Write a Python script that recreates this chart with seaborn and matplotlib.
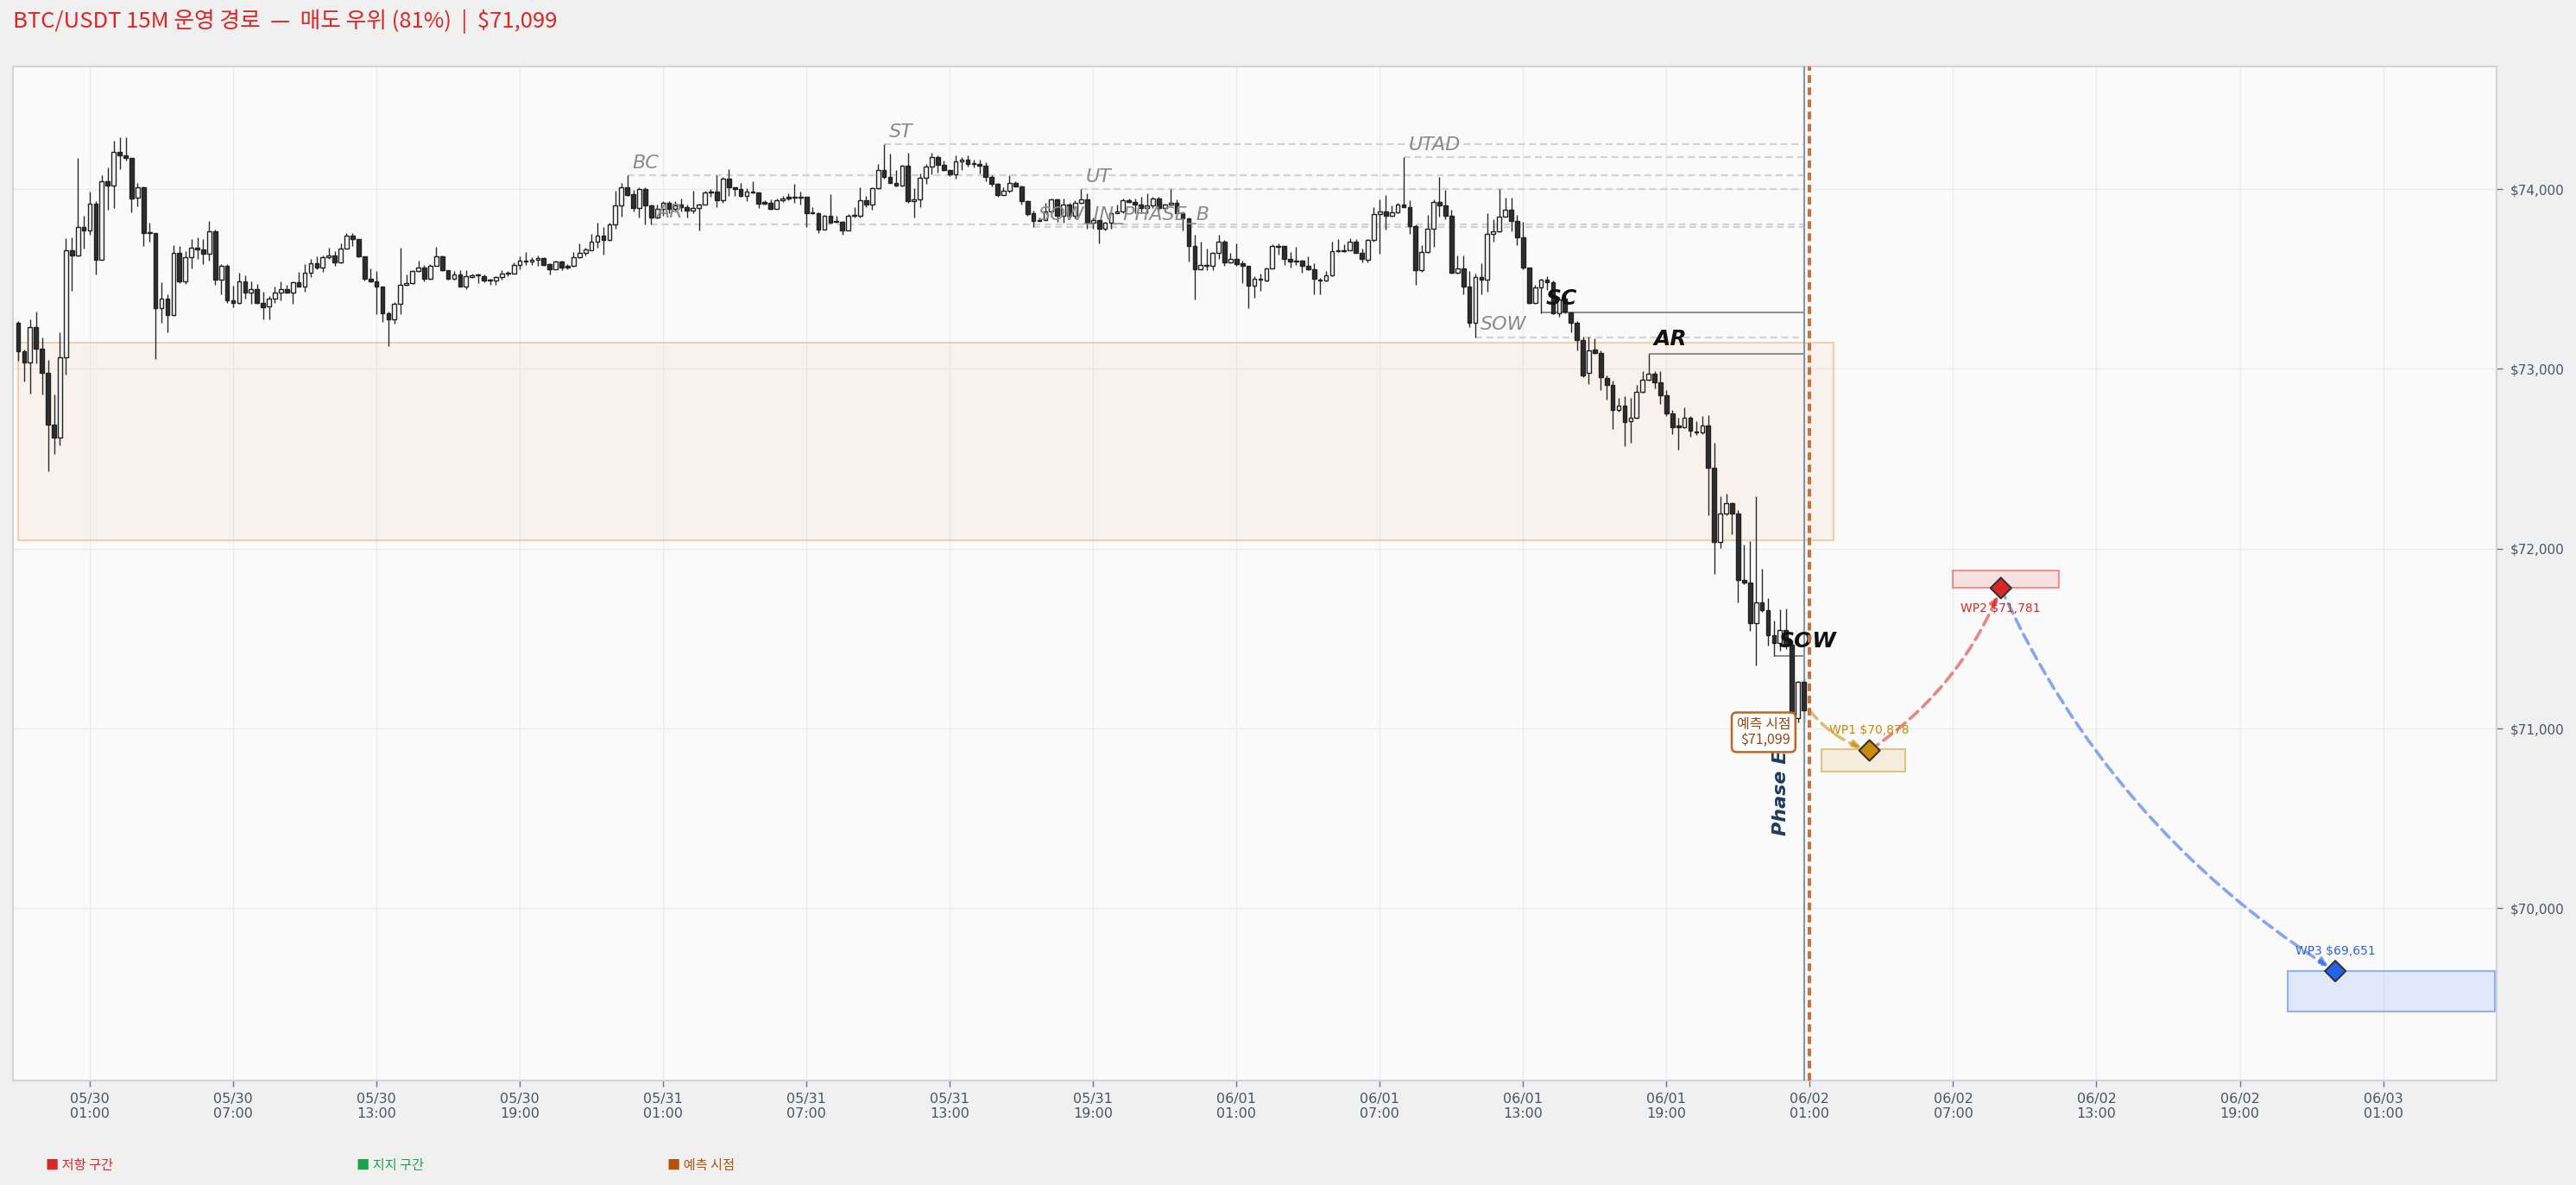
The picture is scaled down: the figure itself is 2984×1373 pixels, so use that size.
import numpy as np
import pandas as pd
import matplotlib
matplotlib.use("Agg")
import matplotlib.pyplot as plt
import matplotlib.dates as mdates
from matplotlib.patches import Rectangle
from matplotlib.ticker import FuncFormatter
import seaborn as sns

# ------------------------------------------------------------------ data
bar_start = "2024-05-29 22:00"   # first 15-minute candle

opens = [
    73256, 73099, 73035, 73232, 73112, 72979, 72691, 72616, 73064, 73659, 73629, 73789, 73768, 73918, 73608,
    74043, 74019, 74208, 74187, 74173, 73952, 74010, 73757, 73755, 73336, 73389, 73299, 73643, 73486, 73621,
    73674, 73664, 73640, 73765, 73496, 73571, 73379, 73365, 73486, 73424, 73443, 73365, 73347, 73389, 73424,
    73443, 73424, 73482, 73459, 73534, 73587, 73563, 73621, 73630, 73592, 73669, 73739, 73720, 73624, 73499,
    73485, 73456, 73309, 73275, 73362, 73467, 73475, 73544, 73562, 73499, 73573, 73627, 73547, 73501, 73525,
    73459, 73512, 73520, 73518, 73493, 73491, 73512, 73534, 73531, 73576, 73600, 73595, 73606, 73616, 73582,
    73555, 73595, 73574, 73571, 73619, 73643, 73662, 73707, 73739, 73715, 73803, 73907, 74008, 73971, 73896,
    74000, 73907, 73840, 73888, 73926, 73891, 73915, 73899, 73880, 73893, 73915, 73984, 73984, 73936, 74059,
    74008, 74002, 73960, 73987, 73979, 73928, 73926, 73891, 73939, 73955, 73955, 73955, 73955, 73869, 73867,
    73776, 73851, 73821, 73819, 73771, 73853, 73851, 73939, 73915, 74003, 74107, 74070, 74035, 74019, 74131,
    73931, 73942, 74062, 74123, 74176, 74136, 74104, 74080, 74155, 74166, 74142, 74142, 74131, 74070, 74027,
    73968, 73992, 74032, 74017, 73931, 73864, 73829, 73830, 73875, 73944, 73854, 73912, 73854, 73926, 73944,
    73811, 73827, 73779, 73811, 73867, 73875, 73939, 73928, 73912, 73896, 73907, 73950, 73896, 73912, 73926,
    73867, 73838, 73686, 73555, 73576, 73571, 73643, 73707, 73592, 73614, 73587, 73571, 73464, 73501, 73491,
    73560, 73685, 73683, 73614, 73595, 73603, 73571, 73555, 73497, 73491, 73520, 73657, 73653, 73662, 73710,
    73646, 73609, 73716, 73860, 73877, 73851, 73870, 73915, 73902, 73795, 73549, 73652, 73780, 73930, 73909,
    73851, 73534, 73560, 73459, 73255, 73512, 73495, 73752, 73763, 73849, 73887, 73823, 73731, 73566, 73367,
    73452, 73495, 73480, 73310, 73390, 73315, 73255, 73159, 72977, 73110, 73090, 72951, 72912, 72773, 72794,
    72709, 72730, 72874, 72940, 72972, 72923, 72854, 72752, 72685, 72677, 72730, 72653, 72645, 72687, 72452,
    72038, 72194, 72252, 72194, 71827, 71811, 71584, 71699, 71656, 71518, 71478, 71550, 71467, 71059, 71259,
]
highs = [
    73267, 73109, 73277, 73320, 73176, 73048, 72859, 73205, 73728, 73733, 74173, 73853, 73987, 73933, 74075,
    74120, 74269, 74288, 74288, 74173, 74035, 74016, 73813, 73757, 73483, 73416, 73688, 73683, 73656, 73723,
    73731, 73720, 73824, 73776, 73584, 73584, 73464, 73536, 73520, 73488, 73472, 73429, 73403, 73459, 73488,
    73467, 73488, 73541, 73584, 73613, 73624, 73632, 73672, 73656, 73696, 73755, 73757, 73723, 73627, 73560,
    73544, 73456, 73317, 73371, 73672, 73525, 73547, 73603, 73579, 73581, 73680, 73632, 73550, 73544, 73547,
    73547, 73528, 73531, 73523, 73499, 73518, 73547, 73544, 73592, 73624, 73648, 73622, 73632, 73619, 73587,
    73600, 73600, 73582, 73648, 73696, 73672, 73750, 73811, 73787, 73811, 73990, 74035, 74075, 73995, 74011,
    74011, 73915, 73915, 73931, 73934, 73931, 73947, 73915, 73990, 73920, 73990, 74002, 74075, 74070, 74110,
    74011, 74035, 74003, 74043, 73982, 73939, 73942, 73947, 73963, 73976, 74027, 73987, 73958, 73899, 73870,
    73856, 73971, 73854, 73822, 73859, 73902, 74008, 73963, 74011, 74139, 74250, 74195, 74107, 74136, 74200,
    74003, 74086, 74139, 74200, 74187, 74158, 74107, 74190, 74179, 74190, 74166, 74163, 74147, 74075, 74035,
    74011, 74078, 74046, 74019, 73939, 73880, 73843, 73923, 73950, 73950, 73950, 73923, 73939, 74000, 73976,
    73843, 73830, 73816, 73878, 73912, 73947, 73947, 73947, 73955, 73976, 73955, 73955, 73918, 74000, 73942,
    73875, 73843, 73747, 73710, 73667, 73651, 73744, 73715, 73643, 73696, 73603, 73571, 73518, 73531, 73563,
    73691, 73699, 73686, 73651, 73678, 73606, 73627, 73587, 73507, 73544, 73710, 73723, 73691, 73726, 73723,
    73670, 73722, 73898, 73945, 73967, 73909, 73924, 74178, 73937, 73802, 73688, 73855, 73941, 74070, 73995,
    73887, 73630, 73630, 73545, 73530, 73587, 73866, 73834, 73999, 73952, 73952, 73855, 73817, 73566, 73470,
    73499, 73515, 73491, 73400, 73405, 73315, 73266, 73180, 73180, 73170, 73105, 72966, 72934, 72837, 72848,
    72837, 72912, 72987, 73086, 72987, 72987, 72884, 72773, 72730, 72788, 72737, 72709, 72737, 72741, 72587,
    72291, 72308, 72259, 72216, 72023, 72044, 72291, 71888, 71723, 71601, 71665, 71667, 71490, 71265, 71283,
]
lows = [
    73043, 72928, 72864, 73032, 72856, 72432, 72528, 72573, 72968, 73432, 73624, 73667, 73744, 73523, 73605,
    73883, 73893, 74109, 74160, 73869, 73904, 73682, 73707, 73053, 73256, 73203, 73296, 73477, 73472, 73557,
    73611, 73581, 73600, 73469, 73416, 73368, 73341, 73360, 73389, 73360, 73360, 73275, 73275, 73368, 73379,
    73424, 73360, 73456, 73427, 73509, 73552, 73541, 73613, 73573, 73589, 73667, 73685, 73621, 73493, 73480,
    73304, 73259, 73125, 73251, 73304, 73464, 73472, 73541, 73485, 73496, 73571, 73544, 73496, 73496, 73456,
    73443, 73507, 73475, 73483, 73470, 73467, 73496, 73515, 73528, 73555, 73579, 73579, 73571, 73574, 73526,
    73552, 73547, 73555, 73568, 73616, 73630, 73659, 73675, 73635, 73712, 73782, 73846, 73963, 73878, 73843,
    73803, 73803, 73835, 73851, 73867, 73875, 73875, 73843, 73867, 73771, 73912, 73955, 73899, 73923, 73963,
    73963, 73955, 73931, 73976, 73896, 73915, 73886, 73888, 73928, 73939, 73923, 73915, 73790, 73859, 73755,
    73774, 73811, 73811, 73747, 73768, 73843, 73843, 73899, 73886, 74000, 74056, 74032, 74016, 74016, 73923,
    73840, 73902, 74027, 74080, 74094, 74099, 74072, 74059, 74107, 74123, 74120, 74088, 74043, 74016, 73955,
    73966, 73982, 74014, 73915, 73851, 73790, 73822, 73827, 73867, 73819, 73814, 73835, 73835, 73918, 73779,
    73779, 73699, 73771, 73779, 73864, 73867, 73923, 73867, 73867, 73867, 73896, 73875, 73886, 73907, 73864,
    73768, 73598, 73387, 73552, 73547, 73547, 73611, 73571, 73587, 73571, 73478, 73339, 73395, 73432, 73488,
    73558, 73635, 73579, 73566, 73579, 73536, 73550, 73416, 73416, 73488, 73518, 73651, 73648, 73659, 73643,
    73592, 73594, 73710, 73641, 73774, 73845, 73866, 73898, 73752, 73470, 73538, 73645, 73680, 73845, 73834,
    73530, 73530, 73416, 73234, 73177, 73416, 73431, 73710, 73759, 73845, 73763, 73688, 73555, 73362, 73362,
    73307, 73440, 73305, 73290, 73310, 73202, 73105, 72955, 72917, 73084, 72880, 72827, 72666, 72762, 72569,
    72587, 72726, 72870, 72934, 72891, 72805, 72737, 72638, 72552, 72672, 72623, 72634, 72638, 72188, 71862,
    72002, 72188, 72081, 71702, 71802, 71545, 71352, 71648, 71459, 71403, 71434, 71440, 71045, 71035, 71035,
]
closes = [
    73096, 73035, 73232, 73112, 72976, 72688, 72616, 73064, 73659, 73629, 73789, 73771, 73918, 73608, 74043,
    74019, 74208, 74187, 74173, 73947, 74010, 73755, 73755, 73336, 73389, 73299, 73643, 73486, 73621, 73674,
    73664, 73640, 73765, 73496, 73571, 73379, 73365, 73486, 73424, 73443, 73365, 73341, 73389, 73424, 73443,
    73424, 73482, 73459, 73534, 73587, 73563, 73621, 73630, 73592, 73669, 73739, 73720, 73624, 73499, 73485,
    73456, 73309, 73275, 73362, 73467, 73475, 73544, 73562, 73499, 73573, 73627, 73547, 73501, 73525, 73456,
    73515, 73521, 73521, 73491, 73491, 73512, 73528, 73529, 73576, 73600, 73597, 73606, 73616, 73579, 73555,
    73595, 73566, 73566, 73619, 73643, 73664, 73707, 73739, 73715, 73803, 73907, 74008, 73966, 73896, 74000,
    73907, 73840, 73888, 73926, 73891, 73910, 73899, 73880, 73893, 73915, 73979, 73979, 73936, 74059, 74008,
    74002, 73960, 73987, 73979, 73920, 73920, 73891, 73939, 73950, 73947, 73953, 73953, 73867, 73868, 73776,
    73851, 73814, 73818, 73771, 73854, 73854, 73939, 73915, 74003, 74107, 74070, 74035, 74019, 74131, 73931,
    73942, 74062, 74123, 74176, 74136, 74104, 74080, 74155, 74166, 74142, 74141, 74131, 74070, 74027, 73968,
    73992, 74032, 74017, 73931, 73859, 73822, 73825, 73875, 73944, 73854, 73912, 73854, 73926, 73944, 73811,
    73827, 73779, 73811, 73867, 73878, 73939, 73928, 73912, 73896, 73907, 73950, 73896, 73912, 73926, 73867,
    73838, 73686, 73555, 73576, 73573, 73643, 73707, 73592, 73614, 73582, 73571, 73464, 73499, 73496, 73560,
    73686, 73681, 73614, 73595, 73603, 73571, 73555, 73499, 73494, 73520, 73656, 73654, 73662, 73710, 73646,
    73611, 73716, 73860, 73877, 73851, 73870, 73915, 73902, 73795, 73549, 73652, 73780, 73930, 73909, 73851,
    73534, 73560, 73459, 73255, 73512, 73495, 73752, 73763, 73849, 73887, 73823, 73731, 73566, 73367, 73452,
    73495, 73480, 73310, 73387, 73320, 73255, 73159, 72966, 73105, 73090, 72955, 72912, 72773, 72794, 72704,
    72730, 72874, 72940, 72972, 72923, 72854, 72752, 72677, 72677, 72730, 72655, 72649, 72687, 72452, 72038,
    72194, 72252, 72194, 71824, 71811, 71587, 71699, 71656, 71518, 71478, 71550, 71467, 71060, 71259, 71099,
]

# Wyckoff reference levels (gray dashed) : label, candle number (1-based), level
ref_labels = ["BC", "AR", "ST", "SOW_IN_PHASE_B", "UT", "UTAD", "SOW"]
ref_bars = [103, 107, 146, 171, 179, 233, 245]
ref_levels = [74075, 73803, 74250, 73790, 74000, 74178, 73177]

# Key events (solid line, bold label)
evt_labels = ["SC", "AR", "SOW"]
evt_bars = [256, 274, 295]
evt_levels = [73312, 73086, 71403]

# Resistance / reaction zone
zone_start = "2024-05-29 22:00"
zone_end = "2024-06-02 02:00"
zone_low, zone_high = 72045, 73144

# Forecast path
now_time = "2024-06-02 01:00"
now_price = 71099
wp_names = ["WP1", "WP2", "WP3"]
wp_times = ["2024-06-02 03:30", "2024-06-02 09:00", "2024-06-02 23:00"]
wp_prices = [70878, 71781, 69651]
wp_colors = ["#ca8a04", "#dc2626", "#2563eb"]
wp_box_t0 = ["2024-06-02 01:30", "2024-06-02 07:00", "2024-06-02 21:00"]
wp_box_t1 = ["2024-06-02 05:00", "2024-06-02 11:25", "2024-06-03 05:40"]
wp_box_lo = [70760, 71781, 69426]
wp_box_hi = [70886, 71880, 69651]

title_text = "BTC/USDT 15M 운영 경로  —  매도 우위 (81%)  |  $71,099"
legend_items = ["저항 구간", "지지 구간", "예측 시점"]
legend_colors = ["#dc2626", "#16a34a", "#b45309"]

# ------------------------------------------------------------------ style
sns.set_theme(style="white")
plt.rcParams["font.family"] = ["DejaVu Sans", "Noto Sans CJK KR"]
CJK = ["Noto Sans CJK KR", "DejaVu Sans"]

W, H = 2984, 1373
fig = plt.figure(figsize=(W / 100, H / 100), dpi=100)
fig.patch.set_facecolor("#f0f0f0")
L, R, T, B = 15, 2892, 77, 1252
ax = fig.add_axes([L / W, 1 - B / H, (R - L) / W, (B - T) / H])
ax.set_facecolor("#fafafa")

def tnum(s):
    return mdates.date2num(pd.Timestamp(s))

times = pd.date_range(bar_start, periods=len(opens), freq="15min")
df = pd.DataFrame({"t": mdates.date2num(times), "open": opens, "high": highs,
                   "low": lows, "close": closes})
x = df["t"].to_numpy()
o = df["open"].to_numpy(float)
c = df["close"].to_numpy(float)
hi = np.maximum(df["high"].to_numpy(float), np.maximum(o, c))
lo = np.minimum(df["low"].to_numpy(float), np.minimum(o, c))
step = 15 / 1440.0
bw = step * 0.68
t_last = x[-1]

# zone
ax.add_patch(Rectangle((tnum(zone_start), zone_low), tnum(zone_end) - tnum(zone_start),
                       zone_high - zone_low, facecolor=(0.976, 0.451, 0.086, 0.06),
                       edgecolor=(0.94, 0.55, 0.2, 0.45), lw=1.2, zorder=1))

# reference lines
for lab, b, lev in zip(ref_labels, ref_bars, ref_levels):
    ax.hlines(lev, x[b - 1], t_last, colors="#d2d2d2", linestyles=(0, (3.5, 2.2)), lw=1.6, zorder=2)
    ax.annotate(lab, (x[b - 1], lev), xytext=(4, 6), textcoords="offset points",
                fontsize=16, style="italic", color="#8a8a8a", va="baseline", ha="left", zorder=5)
for lab, b, lev in zip(evt_labels, evt_bars, evt_levels):
    ax.hlines(lev, x[b - 1], t_last, colors="#8c8c8c", lw=1.4, zorder=2)
    ax.annotate(lab, (x[b - 1], lev), xytext=(4, 7), textcoords="offset points",
                fontsize=18, style="italic", weight="bold", color="#111111",
                va="baseline", ha="left", zorder=6)

# candles
up = c >= o
body = np.maximum(np.abs(c - o), 4)
ax.vlines(x, lo, hi, color="#2a2a2a", lw=1.0, zorder=3)
ax.bar(x[up], body[up], bottom=o[up], width=bw, color="#f4f4f4",
       edgecolor="#222222", lw=1.0, zorder=4)
ax.bar(x[~up], body[~up], bottom=c[~up], width=bw, color="#2e2e2e",
       edgecolor="#222222", lw=1.0, zorder=4)

# vertical markers
ax.axvline(t_last, color="#8595ab", lw=1.5, zorder=3)
ax.axvline(tnum(now_time), color="#c8733a", lw=2.9, ls=(0, (2.2, 1.3)), zorder=6)

# forecast boxes
for t0, t1, bl, bh, col in zip(wp_box_t0, wp_box_t1, wp_box_lo, wp_box_hi, wp_colors):
    rgb = matplotlib.colors.to_rgb(col)
    ax.add_patch(Rectangle((tnum(t0), bl), tnum(t1) - tnum(t0), bh - bl,
                           facecolor=(*rgb, 0.12), edgecolor=(*rgb, 0.45), lw=1.5, zorder=3))

# forecast arrows
pts = [(tnum(now_time), now_price)] + [(tnum(t), p) for t, p in zip(wp_times, wp_prices)]
for i, col in enumerate(wp_colors):
    rgb = matplotlib.colors.to_rgb(col)
    ax.annotate("", xy=pts[i + 1], xytext=pts[i],
                arrowprops=dict(arrowstyle="-|>", connectionstyle="arc3,rad=0.15",
                                color=(*rgb, 0.55), lw=2.6, linestyle=(0, (3.5, 2)),
                                mutation_scale=14, shrinkA=0, shrinkB=7), zorder=5)

wp_df = pd.DataFrame({"t": [tnum(t) for t in wp_times], "price": wp_prices, "name": wp_names})
sns.scatterplot(data=wp_df, x="t", y="price", hue="name", palette=wp_colors, marker="D",
                s=150, edgecolor="#333333", linewidth=1.5, legend=False, zorder=7, ax=ax)
for (tt, pp, nm, col, dy) in zip(wp_df["t"], wp_prices, wp_names, wp_colors, [17, -17, 17]):
    ax.annotate(f"{nm} ${pp:,.0f}", (tt, pp), xytext=(0, dy), textcoords="offset points",
                ha="center", va="center", fontsize=10, color=col, zorder=7)

# current point label
ax.annotate(f"예측 시점\n${now_price:,.0f}", (t_last, now_price), xytext=(-11, -18),
            textcoords="offset points", ha="right", va="center", fontsize=11.5,
            family=CJK, color="#9a4410", linespacing=1.05, multialignment="right",
            bbox=dict(boxstyle="round,pad=0.35", fc="white", ec="#c0651f", lw=1.8), zorder=9)

# phase label
ax.text(tnum("2024-06-01 23:47"), 70405, "Phase E", rotation=90, ha="center", va="bottom",
        fontsize=16, style="italic", weight="bold", color="#1e3a5f", zorder=6)

# axes
ax.set_xlim(tnum("2024-05-29 21:47"), tnum("2024-06-03 05:45"))
ax.set_ylim(69042, 74682)
xt = pd.date_range("2024-05-30 01:00", "2024-06-03 01:00", freq="6h")
ax.set_xticks(mdates.date2num(xt))
ax.set_xticklabels([d.strftime("%m/%d\n%H:%M") for d in xt])
ax.set_yticks([70000, 71000, 72000, 73000, 74000])
ax.yaxis.set_major_formatter(FuncFormatter(lambda v, p: f"${v:,.0f}"))
ax.yaxis.tick_right()
ax.tick_params(axis="x", colors="#6b7280", labelcolor="#4b5563", labelsize=11.5,
               length=5, width=1, pad=5, bottom=True)
ax.tick_params(axis="y", colors="#6b7280", labelcolor="#4b5563", labelsize=11,
               length=5, width=1, pad=6, right=True, left=False)
ax.set_xlabel("")
ax.set_ylabel("")
ax.grid(True, color="#ececec", lw=1.0)
ax.set_axisbelow(True)
for s in ax.spines.values():
    s.set_color("#d1d5db")
    s.set_linewidth(1.5)

# title and legend
fig.text(15 / W, 1 - 25 / H, title_text, color="#dc2626", fontsize=18.5, family=CJK,
         ha="left", va="center")
for xp, lab, col in zip([53, 413, 773], legend_items, legend_colors):
    fig.text(xp / W, 1 - 1351 / H, "■ " + lab, color=col, fontsize=11, family=CJK,
             ha="left", va="center")

fig.savefig("out.png", dpi=100, facecolor=fig.get_facecolor())
